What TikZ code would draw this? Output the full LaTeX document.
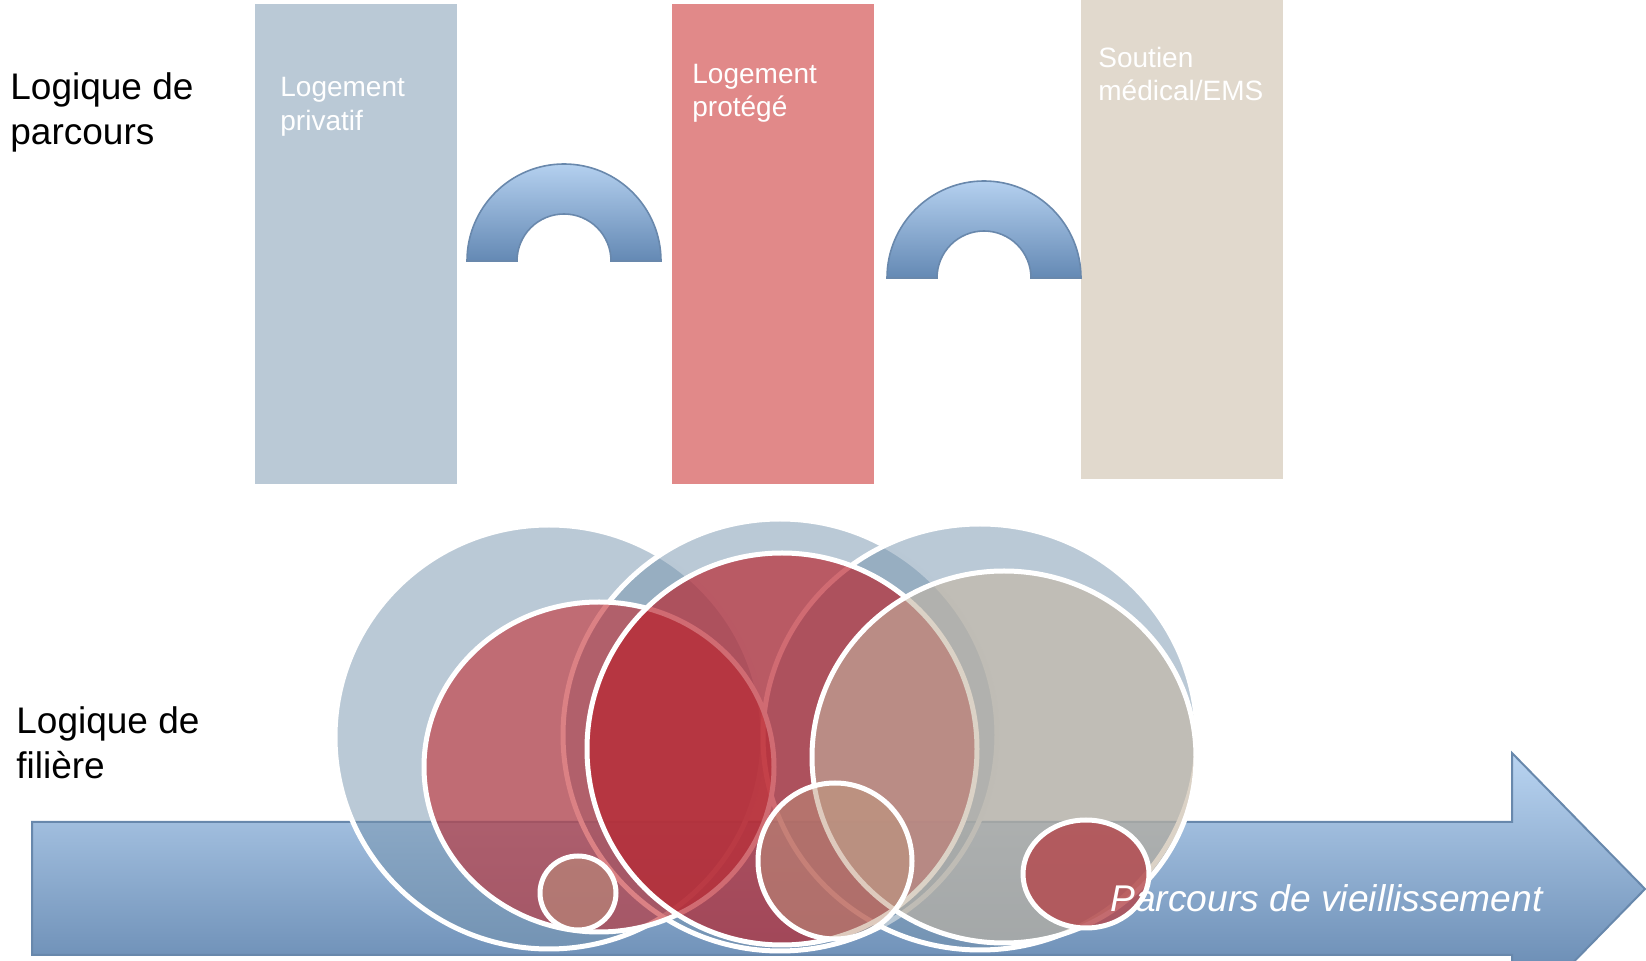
\documentclass[tikz,border=0pt]{standalone}
\usepackage{fontspec}
\setmainfont{Liberation Sans}
\definecolor{rectA}{RGB}{186,201,214}
\definecolor{rectB}{RGB}{225,137,137}
\definecolor{rectC}{RGB}{225,217,205}
\definecolor{archTop}{RGB}{180,208,239}
\definecolor{archBot}{RGB}{100,137,180}
\definecolor{archLine}{RGB}{105,136,172}
\definecolor{arrTop}{RGB}{185,212,241}
\definecolor{arrBot}{RGB}{88,124,166}
\definecolor{arrLine}{RGB}{104,136,172}
\definecolor{cBlue}{RGB}{117,147,173}
\definecolor{cRedD}{RGB}{196,46,51}
\definecolor{cRedE}{RGB}{185,35,45}
\definecolor{cBeige}{RGB}{196,181,161}
\definecolor{cTan}{RGB}{190,150,125}
\definecolor{cRedI}{RGB}{180,70,75}
\tikzset{
  colbox/.style={draw=none, inner sep=0pt, minimum width=101pt},
  boxtxt/.style={anchor=base west, inner sep=0pt, text=white, font=\fontsize{14}{16}\selectfont},
  sidetxt/.style={anchor=base west, inner sep=0pt, text=black, font=\fontsize{18.5}{21}\selectfont},
  archshape/.style={top color=archTop, bottom color=archBot, draw=archLine, line width=0.8pt},
  arrowshape/.style={top color=arrTop, bottom color=arrBot, draw=arrLine, line width=1pt},
  circbase/.style={draw=white, draw opacity=1, line width=2.5pt},
  bluec/.style={circbase, fill=cBlue, fill opacity=0.5},
  redd/.style={circbase, fill=cRedD, fill opacity=0.6},
  rede/.style={circbase, fill=cRedE, fill opacity=0.67},
  beigef/.style={circbase, fill=cBeige, fill opacity=0.6},
  tanc/.style={circbase, fill=cTan, fill opacity=0.5},
  redi/.style={circbase, fill=cRedI, fill opacity=0.8}
}
\begin{document}
\begin{tikzpicture}[x=0.5pt,y=-0.5pt]
\useasboundingbox (0,0) rectangle (1646,961);

% columns
\node[colbox, fill=rectA, minimum height=240pt] (priv) at (356,244) {};
\node[colbox, fill=rectB, minimum height=240pt] (prot) at (773,244) {};
\node[colbox, fill=rectC, minimum height=239.5pt] (ems) at (1182,239.5) {};

\node[boxtxt] (priv1) at (280,97) {Logement};
\node[boxtxt] (priv2) at (280,131) {privatif};
\node[boxtxt] (prot1) at (692,84) {Logement};
\node[boxtxt] (prot2) at (692,117) {protégé};
\node[boxtxt] (ems1) at (1098,68) {Soutien};
\node[boxtxt] (ems2) at (1098,101) {médical/EMS};

% side labels
\node[sidetxt] (lp1) at (10,100) {Logique de};
\node[sidetxt] (lp2) at (10,145) {parcours};
\node[sidetxt] (lf1) at (16,734) {Logique de};
\node[sidetxt] (lf2) at (16,779) {filière};

% arches
\path[archshape] (467,261) arc[start angle=180,end angle=360,radius=97]
  -- (611,261) arc[start angle=0,end angle=-180,radius=47] -- cycle;
\path[archshape] (887,278) arc[start angle=180,end angle=360,radius=97]
  -- (1031,278) arc[start angle=0,end angle=-180,radius=47] -- cycle;

% big arrow
\path[arrowshape] (32,822) -- (1512,822) -- (1512,753) -- (1645,889)
  -- (1512,1025) -- (1512,955) -- (32,955) -- cycle;

% circles
\path[bluec] (549,737) ellipse [x radius=214, y radius=212];
\path[bluec] (780,735) ellipse [x radius=217, y radius=216];
\path[bluec] (980,737) ellipse [x radius=217, y radius=213];
\path[redd] (599,767) ellipse [x radius=175, y radius=165];
\path[rede] (782,749) ellipse [x radius=195, y radius=196];
\path[beigef] (1004,757) ellipse [x radius=192, y radius=186];
\path[tanc] (578,893) ellipse [x radius=38, y radius=37];
\path[tanc] (835,861) ellipse [x radius=77, y radius=78];
\path[redi] (1086,874) ellipse [x radius=63, y radius=54];

\node[anchor=base west, inner sep=0pt, text=white, font=\fontsize{18.6}{22}\selectfont\itshape] (arrtxt) at (1110,912) {Parcours de vieillissement};
\end{tikzpicture}
\end{document}
